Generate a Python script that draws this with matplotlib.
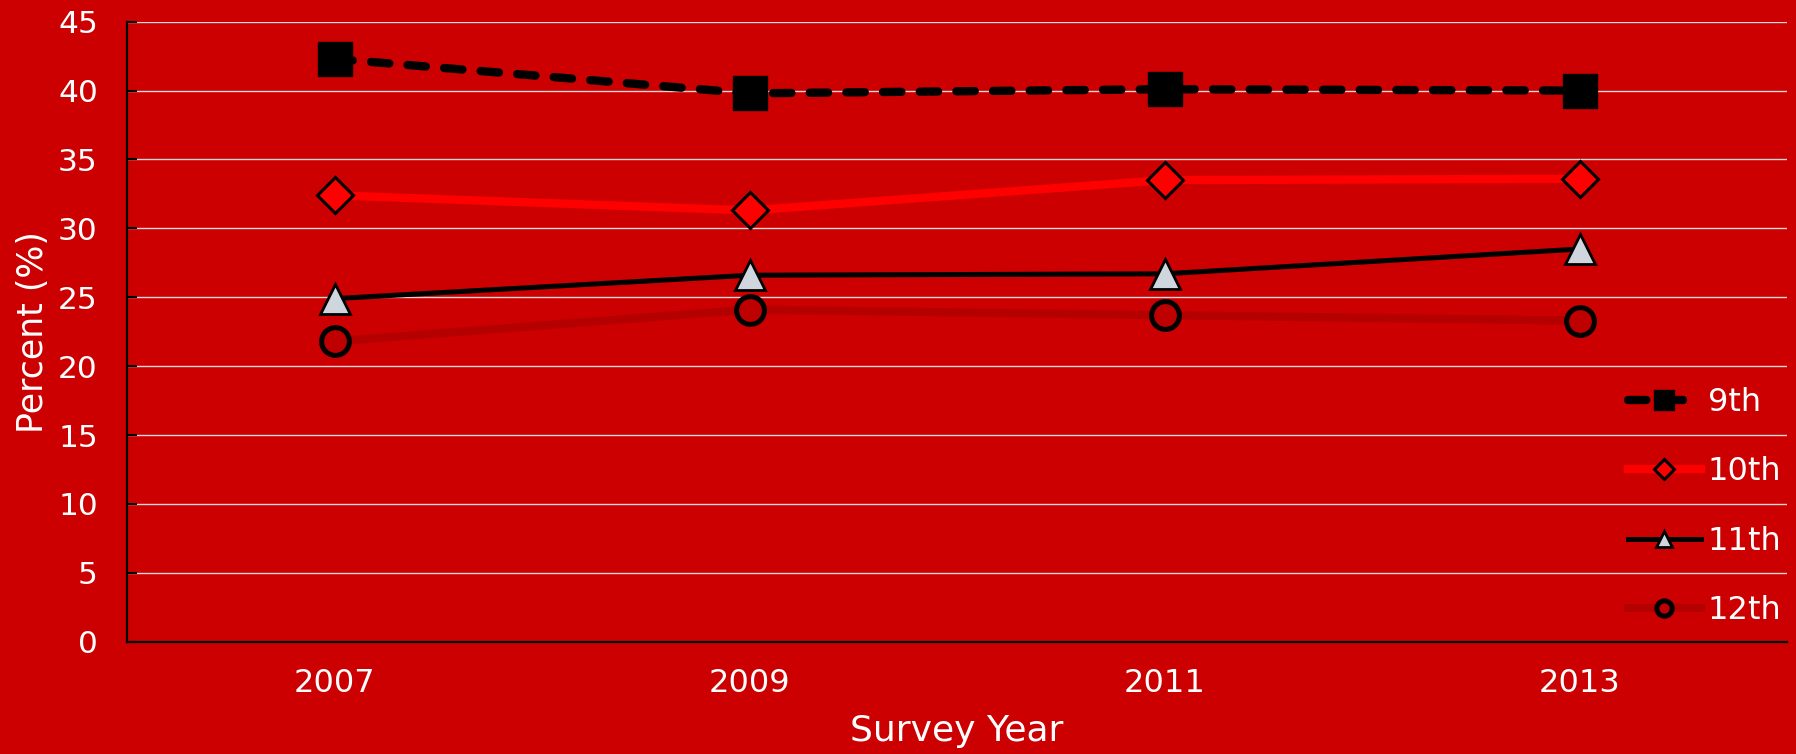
import matplotlib

matplotlib.use("Agg")
import matplotlib.pyplot as plt

years = ["2007", "2009", "2011", "2013"]
grade_9 = [42.3, 39.8, 40.1, 40.0]
grade_10 = [32.4, 31.3, 33.5, 33.6]
grade_11 = [24.9, 26.6, 26.7, 28.5]
grade_12 = [21.8, 24.1, 23.7, 23.3]
y_ticks = list(range(0, 50, 5))

BG = "#CC0000"

plt.rcParams["font.family"] = ["DejaVu Sans"]

fig = plt.figure(figsize=(17.96, 7.54), dpi=100, facecolor=BG)
ax = fig.add_axes([127 / 1796, 112.3 / 754, 1660 / 1796, 620 / 754])
ax.set_facecolor(BG)

x = list(range(len(years)))

ax.plot(x, grade_9, color="black", linewidth=6, dashes=(2.2, 2.2), dash_capstyle="round",
        marker="s", markersize=25, markerfacecolor="black", markeredgecolor="black",
        label="9th", zorder=3)
ax.plot(x, grade_10, color="#FF0000", linewidth=6, marker="D", markersize=18,
        markerfacecolor="#FF0000", markeredgecolor="black", markeredgewidth=2.2,
        label="10th", zorder=3)
ax.plot(x, grade_11, color="black", linewidth=3.6, marker="^", markersize=21,
        markerfacecolor="#D0D6DE", markeredgecolor="black", markeredgewidth=2,
        label="11th", zorder=3)
ax.plot(x, grade_12, color="#B50000", linewidth=6, marker="o", markersize=20,
        markerfacecolor="#BE0000", markeredgecolor="black", markeredgewidth=3.6,
        label="12th", zorder=2.9)

ax.set_xlim(-0.5, 3.5)
ax.set_ylim(0, 45)
ax.set_xticks(x)
ax.set_xticklabels(years)
ax.set_yticks(y_ticks)

ax.grid(axis="y", color="#EAD6D6", linewidth=1.0, zorder=0)
ax.set_axisbelow(True)

for side in ["top", "right"]:
    ax.spines[side].set_visible(False)
for side in ["left", "bottom"]:
    ax.spines[side].set_color("black")
    ax.spines[side].set_linewidth(1.6)

ax.tick_params(axis="x", length=0, pad=19, labelsize=23, labelcolor="white")
ax.tick_params(axis="y", direction="in", length=7, width=1.5, color="black",
               pad=21, labelsize=22.5, labelcolor="white")

ax.set_xlabel("Survey Year", fontsize=26, color="white", labelpad=11)
ax.set_ylabel("Percent (%)", fontsize=25, color="white", labelpad=5.5)

ax.legend(loc="center left", bbox_to_anchor=(0.904, 0.218), frameon=False,
          fontsize=23, labelcolor="white", borderpad=0, borderaxespad=0,
          handlelength=2.3, handletextpad=0.2, labelspacing=1.2, markerscale=0.55)

fig.savefig("out.png", dpi=100, facecolor=BG)
